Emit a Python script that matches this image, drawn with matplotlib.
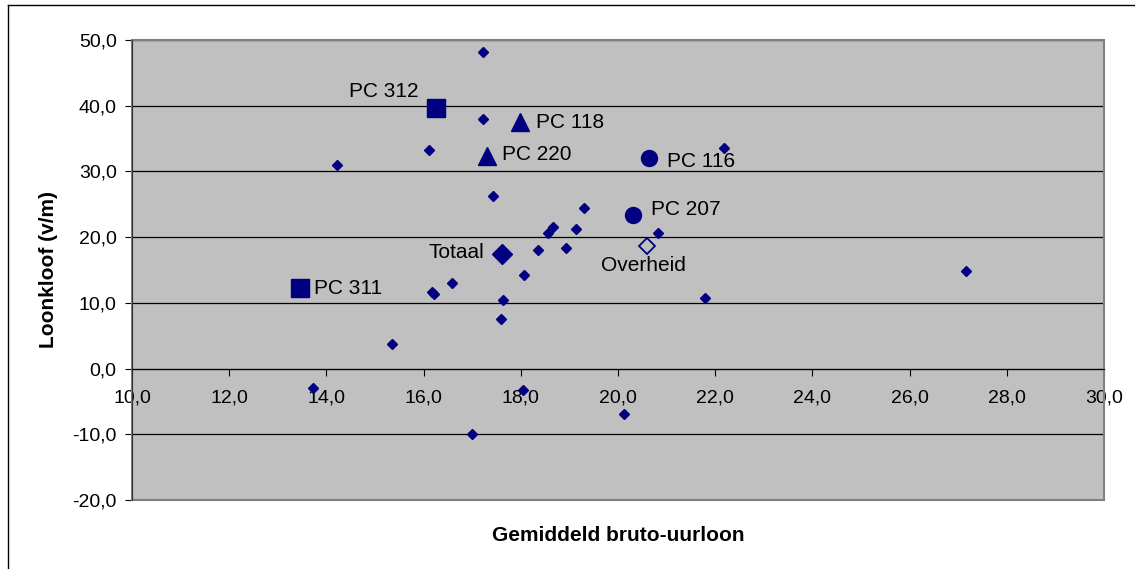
import matplotlib
matplotlib.use("Agg")
import matplotlib.pyplot as plt
from matplotlib.ticker import FuncFormatter, MultipleLocator
from matplotlib.patches import Rectangle
from matplotlib.lines import Line2D

plt.rcParams['font.family'] = ['Liberation Sans', 'DejaVu Sans']

# gemiddeld bruto-uurloon (x) en loonkloof v/m (y) per paritair comite
loon = [17.22, 17.22, 16.11, 14.22, 17.43, 19.30, 18.66, 18.56, 19.14, 20.82,
        22.18, 18.35, 18.93, 18.07, 16.58, 16.17, 16.21, 17.63, 17.59, 15.36,
        13.73, 18.05, 20.12, 17.00, 21.78, 27.17]
kloof = [48.1, 38.0, 33.3, 31.0, 26.3, 24.5, 21.5, 20.7, 21.3, 20.7,
         33.5, 18.0, 18.3, 14.3, 13.0, 11.7, 11.3, 10.5, 7.5, 3.7,
         -2.9, -3.3, -6.9, -10.0, 10.8, 14.8]

# benoemde punten
namen = ["PC 312", "PC 311", "PC 118", "PC 220", "PC 116", "PC 207", "Totaal", "Overheid"]
naam_x = [16.26, 13.46, 17.98, 17.30, 20.64, 20.30, 17.61, 20.59]
naam_y = [39.7, 12.2, 37.5, 32.4, 32.1, 23.4, 17.45, 18.7]

navy = '#000080'
stijl = {
    "PC 312": dict(marker='s', ms=13.5),
    "PC 311": dict(marker='s', ms=13.5),
    "PC 118": dict(marker='^', ms=13),
    "PC 220": dict(marker='^', ms=13),
    "PC 116": dict(marker='o', ms=11.5),
    "PC 207": dict(marker='o', ms=11.5),
    "Totaal": dict(marker='D', ms=10.5),
    "Overheid": dict(marker='D', ms=8.5, mfc='none', mew=1.3),
}
# tekstpositie t.o.v. punt (punten), uitlijning
plaats = {
    "PC 312": ((-13, 12), 'right', 'center'),
    "PC 311": ((10, 0), 'left', 'center'),
    "PC 118": ((12, 0), 'left', 'center'),
    "PC 220": ((11, 1), 'left', 'center'),
    "PC 116": ((13, -3), 'left', 'center'),
    "PC 207": ((13, 4), 'left', 'center'),
    "Totaal": ((-13, 1), 'right', 'center'),
    "Overheid": ((-2, -14), 'center', 'center'),
}

fig = plt.figure(figsize=(11.35, 5.69), dpi=100)
ax = fig.add_axes([132 / 1135, 1 - 500 / 569, 972 / 1135, 460 / 569])
ax.set_facecolor('#C0C0C0')

ax.plot(loon, kloof, linestyle='', marker='D', ms=5.2, color=navy, mec=navy, zorder=3)
for n, x, y in zip(namen, naam_x, naam_y):
    ax.plot([x], [y], linestyle='', color=navy, mec=navy, zorder=4, **stijl[n])
    off, ha, va = plaats[n]
    ax.annotate(n, (x, y), xytext=off, textcoords='offset points',
                ha=ha, va=va, fontsize=15, color='black', zorder=5)

ax.set_xlim(10, 30)
ax.set_ylim(-20, 50)
ax.xaxis.set_major_locator(MultipleLocator(2))
ax.yaxis.set_major_locator(MultipleLocator(10))
fmt = FuncFormatter(lambda v, p: f"{v:.1f}".replace('.', ','))
ax.xaxis.set_major_formatter(fmt)
ax.yaxis.set_major_formatter(fmt)

ax.set_axisbelow(True)
ax.yaxis.grid(True, color='black', lw=0.9)

ax.spines['bottom'].set_position(('data', 0))
ax.spines['bottom'].set_color('black')
ax.spines['left'].set_color('#303030')
ax.spines['top'].set_visible(False)
ax.spines['right'].set_visible(False)
ax.add_patch(Rectangle((0, 0), 1, 1, transform=ax.transAxes, fill=False,
                       edgecolor='#808080', lw=1.5, clip_on=False, zorder=1))

ax.tick_params(axis='y', direction='out', length=5, pad=6, labelsize=14)
ax.tick_params(axis='x', direction='out', length=5, pad=10, labelsize=14)

ax.set_xlabel("Gemiddeld bruto-uurloon", fontsize=15, fontweight='bold')
ax.set_ylabel("Loonkloof (v/m)", fontsize=15, fontweight='bold')
ax.xaxis.label.set_va('center')
ax.yaxis.label.set_va('center')
ax.xaxis.set_label_coords(0.5, -0.078)
ax.yaxis.set_label_coords(-0.086, 0.5)

# kader rond de grafiek
fig.add_artist(Line2D([8 / 1135, 8 / 1135], [0, 1 - 5 / 569], color='black', lw=1))
fig.add_artist(Line2D([8 / 1135, 1], [1 - 5 / 569, 1 - 5 / 569], color='black', lw=1))

fig.savefig("out.png", dpi=100)
